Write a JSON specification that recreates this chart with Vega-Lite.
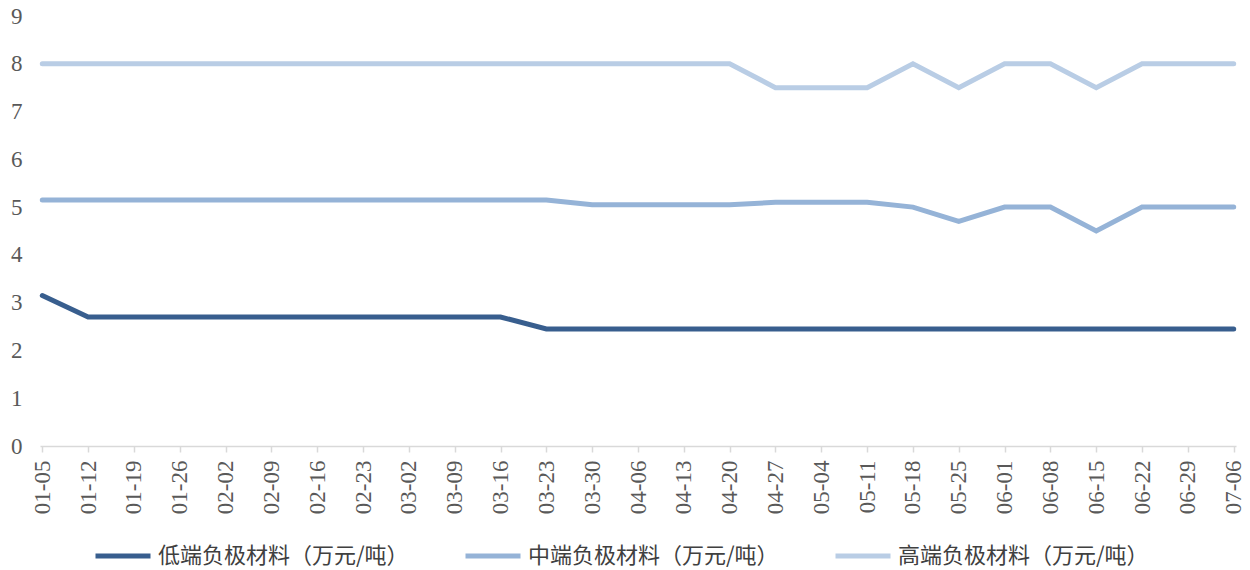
{
  "$schema": "https://vega.github.io/schema/vega-lite/v6.json",
  "autosize": {"type": "none"},
  "width": 1196,
  "height": 430,
  "padding": {"left": 40, "top": 16, "right": 14, "bottom": 124},
  "background": "white",
  "config": {
    "view": {"stroke": null},
    "font": "Liberation Serif"
  },
  "data": {
    "values": [
      {"d": "01-05", "低端负极材料（万元/吨）": 3.15, "中端负极材料（万元/吨）": 5.15, "高端负极材料（万元/吨）": 8},
      {"d": "01-12", "低端负极材料（万元/吨）": 2.7, "中端负极材料（万元/吨）": 5.15, "高端负极材料（万元/吨）": 8},
      {"d": "01-19", "低端负极材料（万元/吨）": 2.7, "中端负极材料（万元/吨）": 5.15, "高端负极材料（万元/吨）": 8},
      {"d": "01-26", "低端负极材料（万元/吨）": 2.7, "中端负极材料（万元/吨）": 5.15, "高端负极材料（万元/吨）": 8},
      {"d": "02-02", "低端负极材料（万元/吨）": 2.7, "中端负极材料（万元/吨）": 5.15, "高端负极材料（万元/吨）": 8},
      {"d": "02-09", "低端负极材料（万元/吨）": 2.7, "中端负极材料（万元/吨）": 5.15, "高端负极材料（万元/吨）": 8},
      {"d": "02-16", "低端负极材料（万元/吨）": 2.7, "中端负极材料（万元/吨）": 5.15, "高端负极材料（万元/吨）": 8},
      {"d": "02-23", "低端负极材料（万元/吨）": 2.7, "中端负极材料（万元/吨）": 5.15, "高端负极材料（万元/吨）": 8},
      {"d": "03-02", "低端负极材料（万元/吨）": 2.7, "中端负极材料（万元/吨）": 5.15, "高端负极材料（万元/吨）": 8},
      {"d": "03-09", "低端负极材料（万元/吨）": 2.7, "中端负极材料（万元/吨）": 5.15, "高端负极材料（万元/吨）": 8},
      {"d": "03-16", "低端负极材料（万元/吨）": 2.7, "中端负极材料（万元/吨）": 5.15, "高端负极材料（万元/吨）": 8},
      {"d": "03-23", "低端负极材料（万元/吨）": 2.45, "中端负极材料（万元/吨）": 5.15, "高端负极材料（万元/吨）": 8},
      {"d": "03-30", "低端负极材料（万元/吨）": 2.45, "中端负极材料（万元/吨）": 5.05, "高端负极材料（万元/吨）": 8},
      {"d": "04-06", "低端负极材料（万元/吨）": 2.45, "中端负极材料（万元/吨）": 5.05, "高端负极材料（万元/吨）": 8},
      {"d": "04-13", "低端负极材料（万元/吨）": 2.45, "中端负极材料（万元/吨）": 5.05, "高端负极材料（万元/吨）": 8},
      {"d": "04-20", "低端负极材料（万元/吨）": 2.45, "中端负极材料（万元/吨）": 5.05, "高端负极材料（万元/吨）": 8},
      {"d": "04-27", "低端负极材料（万元/吨）": 2.45, "中端负极材料（万元/吨）": 5.1, "高端负极材料（万元/吨）": 7.5},
      {"d": "05-04", "低端负极材料（万元/吨）": 2.45, "中端负极材料（万元/吨）": 5.1, "高端负极材料（万元/吨）": 7.5},
      {"d": "05-11", "低端负极材料（万元/吨）": 2.45, "中端负极材料（万元/吨）": 5.1, "高端负极材料（万元/吨）": 7.5},
      {"d": "05-18", "低端负极材料（万元/吨）": 2.45, "中端负极材料（万元/吨）": 5.0, "高端负极材料（万元/吨）": 8},
      {"d": "05-25", "低端负极材料（万元/吨）": 2.45, "中端负极材料（万元/吨）": 4.7, "高端负极材料（万元/吨）": 7.5},
      {"d": "06-01", "低端负极材料（万元/吨）": 2.45, "中端负极材料（万元/吨）": 5.0, "高端负极材料（万元/吨）": 8},
      {"d": "06-08", "低端负极材料（万元/吨）": 2.45, "中端负极材料（万元/吨）": 5.0, "高端负极材料（万元/吨）": 8},
      {"d": "06-15", "低端负极材料（万元/吨）": 2.45, "中端负极材料（万元/吨）": 4.5, "高端负极材料（万元/吨）": 7.5},
      {"d": "06-22", "低端负极材料（万元/吨）": 2.45, "中端负极材料（万元/吨）": 5.0, "高端负极材料（万元/吨）": 8},
      {"d": "06-29", "低端负极材料（万元/吨）": 2.45, "中端负极材料（万元/吨）": 5.0, "高端负极材料（万元/吨）": 8},
      {"d": "07-06", "低端负极材料（万元/吨）": 2.45, "中端负极材料（万元/吨）": 5.0, "高端负极材料（万元/吨）": 8}
    ]
  },
  "transform": [
    {"fold": ["低端负极材料（万元/吨）", "中端负极材料（万元/吨）", "高端负极材料（万元/吨）"], "as": ["series", "value"]}
  ],
  "mark": {"type": "line", "strokeWidth": 5, "strokeJoin": "miter", "strokeCap": "round"},
  "encoding": {
    "x": {
      "field": "d",
      "type": "ordinal",
      "sort": null,
      "scale": {"type": "point", "padding": 0.05},
      "axis": {
        "title": null,
        "labelAngle": -90,
        "labelFont": "Liberation Serif",
        "labelFontSize": 23,
        "labelColor": "#595959",
        "labelPadding": 8,
        "domainColor": "#d9d9d9",
        "domainWidth": 1.5,
        "tickColor": "#d9d9d9",
        "tickSize": 6,
        "tickWidth": 1.5,
        "grid": false
      }
    },
    "y": {
      "field": "value",
      "type": "quantitative",
      "scale": {"domain": [0, 9], "nice": false},
      "axis": {
        "title": null,
        "values": [0, 1, 2, 3, 4, 5, 6, 7, 8, 9],
        "domain": false,
        "ticks": false,
        "grid": false,
        "labelFont": "Liberation Serif",
        "labelFontSize": 23,
        "labelColor": "#595959",
        "labelPadding": 18
      }
    },
    "color": {
      "field": "series",
      "type": "nominal",
      "sort": ["低端负极材料（万元/吨）", "中端负极材料（万元/吨）", "高端负极材料（万元/吨）"],
      "scale": {
        "domain": ["低端负极材料（万元/吨）", "中端负极材料（万元/吨）", "高端负极材料（万元/吨）"],
        "range": ["#385E8E", "#95B3D7", "#B9CDE5"]
      },
      "legend": {
        "title": null,
        "orient": "none",
        "direction": "horizontal",
        "legendX": 53,
        "legendY": 510,
        "symbolType": "stroke",
        "symbolSize": 3025,
        "symbolStrokeWidth": 5,
        "labelFont": "Noto Sans CJK SC",
        "labelFontSize": 22,
        "labelColor": "#404040",
        "labelOffset": 5,
        "labelLimit": 0,
        "columnPadding": 46
      }
    }
  }
}
